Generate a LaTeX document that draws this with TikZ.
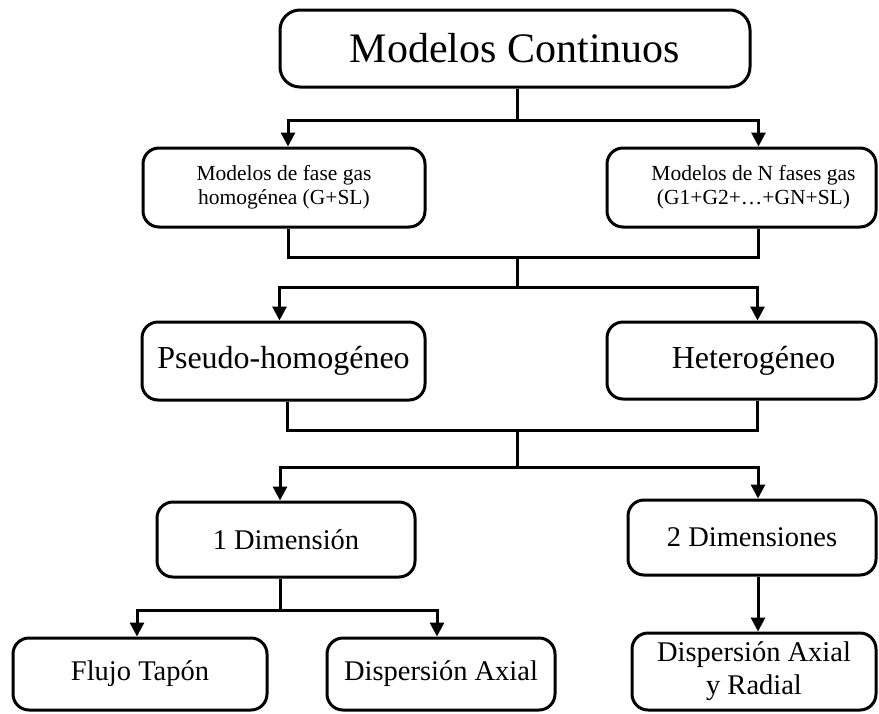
\documentclass[tikz,border=0pt]{standalone}
\usepackage{fontspec}
\setmainfont{Liberation Serif}
\usetikzlibrary{arrows.meta}
\begin{document}
\begin{tikzpicture}[x=1pt,y=-1pt,
  box/.style={draw=black,line width=3pt,rounded corners=16pt,fill=white,align=center,inner sep=0pt},
  ln/.style={draw=black,line width=3pt},
  arr/.style={ln,-{Triangle[length=14pt,width=14pt]}},
  fA/.style={font=\fontsize{42}{48}\selectfont},
  fB/.style={font=\fontsize{21.5}{24}\selectfont},
  fC/.style={font=\fontsize{32}{36}\selectfont},
  fD/.style={font=\fontsize{28.5}{33}\selectfont}]
\useasboundingbox (0,0) rectangle (879,713);
% nodes
\node[box,fA,minimum width=470pt,minimum height=77pt,rounded corners=20pt] (top) at (515,48.5) {Modelos Continuos};
\node[box,fB,minimum width=282pt,minimum height=79pt] (b2L) at (284,187.5) {Modelos de fase gas\\homogénea (G+SL)};
\node[box,minimum width=269pt,minimum height=79pt,
  label={[fB,align=center,xshift=12pt]center:Modelos de N fases gas\\(G1+G2+\ldots+GN+SL)}] (b2R) at (741.5,187.5) {};
\node[box,fC,minimum width=283pt,minimum height=78pt] (b3L) at (283.5,361) {Pseudo-homogéneo};
\node[box,minimum width=269pt,minimum height=77pt,
  label={[fC,xshift=12pt]center:Heterogéneo}] (b3R) at (741.5,360.5) {};
\node[box,fD,minimum width=258pt,minimum height=75pt] (b4L) at (286,539.5) {1 Dimensión};
\node[box,fD,minimum width=248pt,minimum height=75pt] (b4R) at (752,537.5) {2 Dimensiones};
\node[box,fD,minimum width=254pt,minimum height=72pt] (b5a) at (140,674) {Flujo Tapón};
\node[box,fD,minimum width=228pt,minimum height=72pt] (b5b) at (441,674) {Dispersión Axial};
\node[box,fD,minimum width=244pt,minimum height=77pt] (b5c) at (754,671.5) {Dispersión Axial\\y Radial};
% connectors
\coordinate (c1) at (517,120);
\draw[ln] (c1 |- top.south) -- (c1);
\draw[arr] (c1) -| ([xshift=4pt]b2L.north);
\draw[arr] (c1) -| ([xshift=17pt]b2R.north);
\coordinate (m2) at (517,257);
\coordinate (s2) at (517,287);
\draw[ln] ([xshift=4pt]b2L.south) |- (m2) -| ([xshift=17pt]b2R.south);
\draw[ln] (m2) -- (s2);
\draw[arr] (s2) -| ([xshift=-4pt]b3L.north);
\draw[arr] (s2) -| ([xshift=16pt]b3R.north);
\coordinate (m3) at (517,430);
\coordinate (s3) at (517,467);
\draw[ln] ([xshift=4pt]b3L.south) |- (m3) -| ([xshift=16pt]b3R.south);
\draw[ln] (m3) -- (s3);
\draw[arr] (s3) -| ([xshift=-6pt]b4L.north);
\draw[arr] (s3) -| ([xshift=6pt]b4R.north);
\coordinate (m4) at (280,610);
\draw[ln] ([xshift=-6pt]b4L.south) -- (m4);
\draw[arr] (m4) -| ([xshift=-3pt]b5a.north);
\draw[arr] (m4) -| ([xshift=-4pt]b5b.north);
\draw[arr] ([xshift=6pt]b4R.south) -- ([xshift=4pt]b5c.north);
\end{tikzpicture}
\end{document}
